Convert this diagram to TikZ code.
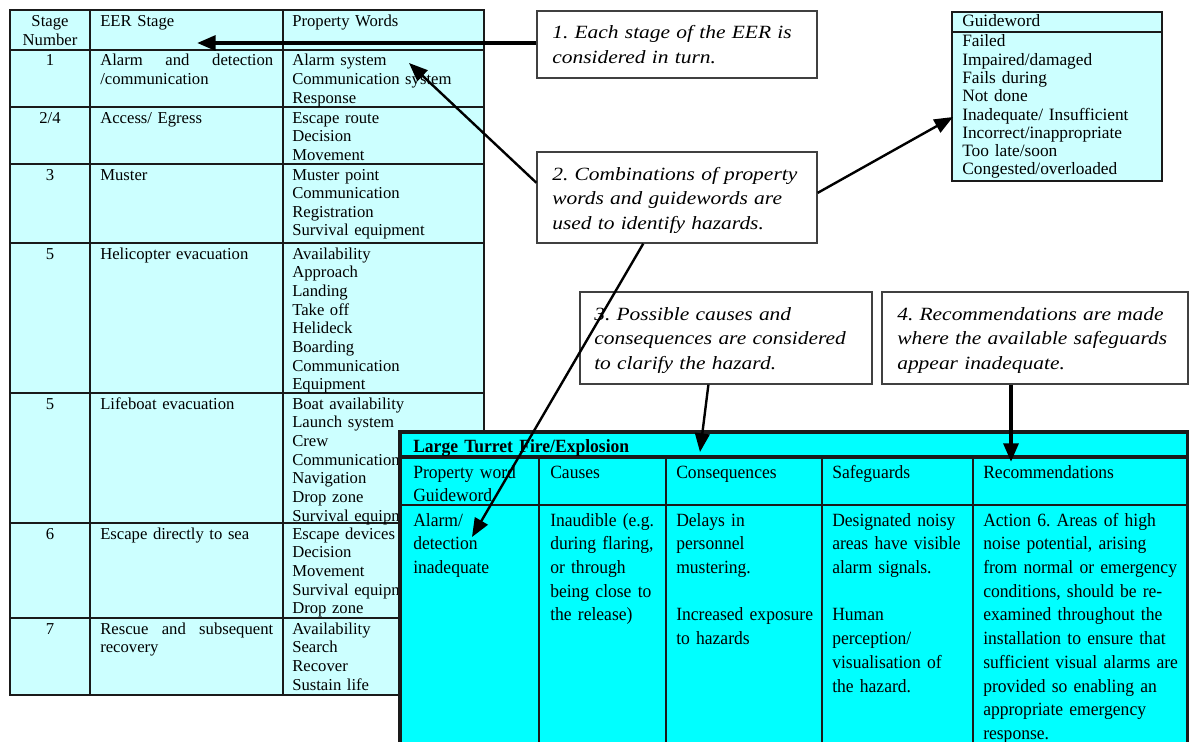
\documentclass[tikz,border=0pt]{standalone}
\usepackage{fontspec}
\setmainfont{Liberation Serif}
\newfontfamily\callfont[FakeStretch=1.15]{Liberation Serif}
\newfontfamily\gridfont[FakeStretch=0.94]{Liberation Serif}
\usetikzlibrary{arrows.meta,calc}
\definecolor{paleaqua}{HTML}{CCFFFF}
\definecolor{aqua}{HTML}{00FFFF}
\definecolor{rule}{HTML}{1A1A1A}
\definecolor{boxline}{HTML}{404040}
\frenchspacing

\begin{document}
\begin{tikzpicture}[x=0.75pt,y=-0.75pt,
  tline/.style={draw=rule, line width=1.6pt},
  ltext/.style={inner sep=0pt, anchor=base west, align=left, text width=#1,
    font=\fontsize{12.5pt}{14pt}\selectfont},
  ltext/.default=140pt,
  lnum/.style={inner sep=0pt, anchor=base, align=center, text width=52pt,
    font=\fontsize{12.5pt}{14pt}\selectfont},
  gbox/.style={draw=rule, line width=1.2pt, fill=paleaqua, inner sep=0pt},
  gtext/.style={inner sep=0pt, anchor=base west, align=left, text width=150pt,
    font=\fontsize{13pt}{13.7pt}\selectfont},
  callbox/.style={draw=boxline, line width=1pt, fill=white, inner sep=0pt},
  calltext/.style={inner sep=0pt, anchor=base west, align=left, text width=220pt,
    font=\callfont\itshape\fontsize{14pt}{18.5pt}\selectfont},
  ttext/.style={inner sep=0pt, anchor=base west, align=left, text width=#1,
    font=\gridfont\fontsize{14pt}{17.8pt}\selectfont},
  ttext/.default=160pt,
  bline/.style={draw=rule, line width=1.5pt},
  bouter/.style={draw=rule, line width=2.4pt},
  pointer/.style={-{Triangle[length=14pt,width=11pt]}, draw=black},
  heavyarrow/.style={pointer, line width=3pt},
  lightarrow/.style={pointer, line width=1.8pt},
]
\useasboundingbox (0,0) rectangle (1189,742);
\clip (0,0) rectangle (1189,742);
\fill[white] (0,0) rectangle (1189,742);

% ---------- EER stage table ----------
\fill[paleaqua] (10,10) rectangle (484,695);
\foreach \yy in {50,107,164,243,393,523,618}
  \draw[tline] (10,\yy) -- (484,\yy);
\draw[tline] (90,10) -- (90,695) (283,10) -- (283,695);
\draw[tline] (10,10) rectangle (484,695);

\node[lnum] (hnum) at (50,27) {Stage\\Number};
\node[ltext] (hstage) at (100,27) {EER Stage};
\node[ltext] (hprop) at (292,27) {Property Words};

\node[lnum] (n1) at (50,66) {1};
\node[ltext] (s1) at (100,66) {\hbox to 129.75pt{Alarm\hfill and\hfill detection}\\/communication};
\node[ltext] (p1) at (292,66) {Alarm system\\Communication system\\Response};

\node[lnum] (n2) at (50,123) {2/4};
\node[ltext] (s2) at (100,123) {Access/ Egress};
\node[ltext] (p2) at (292,123) {Escape route\\Decision\\Movement};

\node[lnum] (n3) at (50,180) {3};
\node[ltext] (s3) at (100,180) {Muster};
\node[ltext] (p3) at (292,180) {Muster point\\Communication\\Registration\\Survival equipment};

\node[lnum] (n4) at (50,259) {5};
\node[ltext] (s4) at (100,259) {Helicopter evacuation};
\node[ltext] (p4) at (292,259) {Availability\\Approach\\Landing\\Take off\\Helideck\\Boarding\\Communication\\Equipment};

\node[lnum] (n5) at (50,409) {5};
\node[ltext] (s5) at (100,409) {Lifeboat evacuation};
\node[ltext] (p5) at (292,409) {Boat availability\\Launch system\\Crew\\Communication\\Navigation\\Drop zone\\Survival equipment};

\node[lnum] (n6) at (50,539) {6};
\node[ltext] (s6) at (100,539) {Escape directly to sea};
\node[ltext] (p6) at (292,539) {Escape devices\\Decision\\Movement\\Survival equipment\\Drop zone};

\node[lnum] (n7) at (50,634) {7};
\node[ltext] (s7) at (100,634) {\hbox to 129.75pt{Rescue\hfill and\hfill subsequent}\\recovery};
\node[ltext] (p7) at (292,634) {Availability\\Search\\Recover\\Sustain life};

% ---------- guideword list ----------
\node[gbox, minimum width=157.5pt, minimum height=126.75pt] (gw) at (1057,96.5) {};
\draw[rule, line width=2.2pt] (952,12) -- (1162,12);
\draw[rule, line width=2pt] (952,32) -- (1162,32);
\node[gtext] (gwh) at (962,27) {Guideword};
\node[gtext] (gwl) at (962,47) {Failed\\Impaired/damaged\\Fails during\\Not done\\Inadequate/ Insufficient\\Incorrect/inappropriate\\Too late/soon\\Congested/overloaded};

% ---------- numbered notes ----------
\node[callbox, minimum width=210pt, minimum height=50.25pt] (c1) at (677,44.5) {};
\node[calltext] (c1t) at (552,39) {1. Each stage of the EER is\\considered in turn.};

\node[callbox, minimum width=210pt, minimum height=68.25pt] (c2) at (677,197.5) {};
\node[calltext] (c2t) at (552,180) {2. Combinations of property\\words and guidewords are\\used to identify hazards.};

\node[callbox, minimum width=219pt, minimum height=69pt] (c3) at (726,338) {};
\node[calltext] (c3t) at (594,320) {3. Possible causes and\\consequences are considered\\to clarify the hazard.};

\node[callbox, minimum width=229.5pt, minimum height=69pt] (c4) at (1035,338) {};
\node[calltext] (c4t) at (897,320) {4. Recommendations are made\\where the available safeguards\\appear inadequate.};

% ---------- hazard worksheet ----------
\fill[aqua] (398,432) rectangle (1195,760);
\foreach \xx in {539,666,822,973}
  \draw[bline] (\xx,457) -- (\xx,760);
\draw[bline] (400,505) -- (1188,505);
\draw[bouter] (400,457) -- (1188,457);
\draw[bouter] (400,760) -- (400,432) -- (1188,432) -- (1188,760);

\node[ttext=400pt, font=\gridfont\bfseries\fontsize{14pt}{17.8pt}\selectfont] (wtitle) at (413,452) {Large Turret Fire/Explosion};

\node[ttext] (hw1) at (413,478) {Property word\\Guideword};
\node[ttext] (hw2) at (550,478) {Causes};
\node[ttext] (hw3) at (676,478) {Consequences};
\node[ttext] (hw4) at (832,478) {Safeguards};
\node[ttext] (hw5) at (983,478) {Recommendations};

\node[ttext] (bw1) at (413,526) {Alarm/\\detection\\inadequate};
\node[ttext] (bw2) at (550,526) {Inaudible (e.g.\\during flaring,\\or through\\being close to\\the release)};
\node[ttext] (bw3) at (676,526) {Delays in\\personnel\\mustering.\\[17.8pt]Increased exposure\\to hazards};
\node[ttext] (bw4) at (832,526) {Designated noisy\\areas have visible\\alarm signals.\\[17.8pt]Human\\perception/\\visualisation of\\the hazard.};
\node[ttext] (bw5) at (983,526) {Action 6. Areas of high\\noise potential, arising\\from normal or emergency\\conditions, should be re-\\examined throughout the\\installation to ensure that\\sufficient visual alarms are\\provided so enabling an\\appropriate emergency\\response.};

% ---------- arrows ----------
\coordinate (t1) at (197,43);
\coordinate (t2) at (409,63);
\coordinate (t3) at (953,117);
\coordinate (t4) at (472,537);
\coordinate (t5) at (700,452);
\coordinate (t6) at (1011,462);

\draw[heavyarrow] (c1.west |- t1) -- (t1);
\draw[lightarrow] ($(c2.north west)!0.34!(c2.south west)$) -- (t2);
\draw[lightarrow] ($(c2.north east)!0.45!(c2.south east)$) -- (t3);
\draw[lightarrow] ($(c2.south west)!0.38!(c2.south east)$) -- (t4);
\draw[lightarrow] ($(c3.south west)!0.44!(c3.south east)$) -- (t5);
\draw[heavyarrow] (c4.south -| t6) -- (t6);
\end{tikzpicture}
\end{document}
